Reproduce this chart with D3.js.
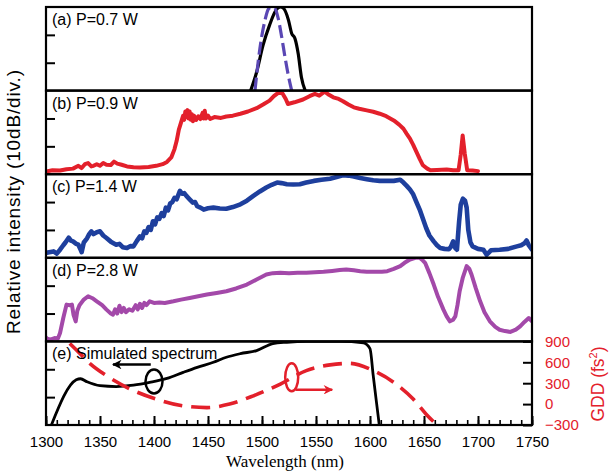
<!DOCTYPE html>
<html>
<head>
<meta charset="utf-8">
<script src="https://cdn.jsdelivr.net/npm/d3@7"></script>
<style>
  body { margin: 0; background: #fff; }
  svg text { font-family: "Liberation Sans", Arial, sans-serif; }
</style>
</head>
<body>
<svg id="chart" width="609" height="473"></svg>
<script>
// ---- data (wavelength nm, relative intensity in 10 dB divisions) ----
const panelLabels = ['(a) P=0.7 W', '(b) P=0.9 W', '(c) P=1.4 W', '(d) P=2.8 W', '(e) Simulated spectrum'];
const xTicks = [1300, 1350, 1400, 1450, 1500, 1550, 1600, 1650, 1700, 1750];
const gddTicks = [-300, 0, 300, 600, 900];

const specA = [[1489.5,0],[1495,0.66],[1501,1.63],[1507,2.35],[1513.5,2.92],[1517,3.0],[1520,2.95],
  [1524.5,2.53],[1527.5,2.05],[1530.5,1.87],[1533.5,1.33],[1536.5,0.48],[1540,0]];
const pumpA = [[1493.5,0],[1496.6,1.08],[1499.7,1.93],[1502.8,2.53],[1505.8,2.92],[1509,3.0],[1512,2.95],
  [1515,2.59],[1518.2,1.93],[1521.3,1.2],[1524.4,0.54],[1527.5,0]];

const specB = [[1300,0.1],[1306,0.14],[1313,0.13],[1319,0.18],[1325,0.2],[1330,0.3],[1333,0.22],[1336,0.36],
  [1339,0.4],[1342,0.28],[1344,0.3],[1347,0.36],[1350,0.3],[1353,0.4],[1356,0.34],[1360,0.33],[1363,0.45],
  [1366,0.38],[1370,0.34],[1375,0.28],[1381,0.25],[1387,0.24],[1395,0.26],[1402,0.3],[1408,0.36],[1412,0.44],
  [1416,0.6],[1419,0.9],[1421,1.2],[1423,1.6],[1425,1.85],[1427,2.1],[1428,1.95],[1429,2.25],[1430,2.05],
  [1431,2.3],[1432,2.0],[1433,2.25],[1434,1.95],[1435,2.15],[1436,1.9],[1437,2.1],[1439,1.95],[1441,2.08],
  [1443,1.98],[1445,2.2],[1446,2.0],[1447,2.28],[1448,2.0],[1450,2.1],[1452,1.98],[1456,2.05],[1462,2.02],
  [1467,2.07],[1473,2.1],[1480,2.17],[1487,2.25],[1495,2.37],[1501,2.5],[1507,2.64],[1511,2.8],[1515,2.92],
  [1519,2.9],[1522,2.7],[1524,2.52],[1530,2.58],[1538,2.68],[1544,2.8],[1549,2.88],[1553,2.82],[1558,2.96],
  [1562,2.85],[1566,2.76],[1571,2.7],[1575,2.62],[1580,2.5],[1585,2.4],[1590,2.35],[1597,2.29],[1603,2.24],
  [1609,2.17],[1615,2.08],[1622,1.93],[1627,1.78],[1631,1.63],[1634,1.45],[1637,1.28],[1640,1.05],[1643,0.8],
  [1646,0.55],[1649,0.32],[1653,0.2],[1656,0.14],[1662,0.15],[1671,0.17],[1677,0.14],[1682,0.14],[1684,0.7],
  [1685.8,1.39],[1687.7,0.75],[1690,0.14],[1695,0.13],[1700,0.11]];

const specC = [[1299,0.17],[1303,0.2],[1307,0.23],[1310,0.15],[1313,0.29],[1316,0.45],[1318,0.55],[1321,0.72],
  [1323,0.62],[1325,0.59],[1328,0.5],[1330,0.47],[1332,0.3],[1333,0.2],[1335,0.55],[1338,0.7],[1340,0.85],
  [1342,0.95],[1344,0.85],[1347,0.92],[1350,0.95],[1353,0.8],[1356,0.71],[1360,0.58],[1365,0.47],[1368,0.5],
  [1371,0.38],[1375,0.35],[1378,0.42],[1381,0.41],[1384,0.6],[1387,0.77],[1389,0.7],[1391,0.95],[1393,0.9],
  [1395,1.1],[1397,1.0],[1399,1.31],[1401,1.2],[1403,1.45],[1405,1.4],[1407,1.6],[1409,1.5],[1411,1.8],
  [1413,1.7],[1415,1.95],[1417,2.0],[1419,2.15],[1421,2.1],[1424,2.4],[1426,2.3],[1428,2.32],[1430,2.22],
  [1433,2.1],[1436,1.98],[1438,2.0],[1440,1.85],[1443,1.8],[1446,1.73],[1450,1.78],[1455,1.8],[1461,1.77],
  [1467,1.76],[1473,1.82],[1480,1.92],[1486,2.05],[1492,2.22],[1498,2.38],[1504,2.52],[1509,2.62],[1514,2.7],
  [1518,2.68],[1523,2.64],[1529,2.63],[1535,2.64],[1541,2.7],[1548,2.76],[1555,2.8],[1563,2.84],[1569,2.9],
  [1575,2.96],[1580,2.95],[1585,2.92],[1591,2.86],[1597,2.82],[1603,2.78],[1609,2.76],[1616,2.76],[1622,2.76],
  [1628,2.8],[1631,2.7],[1634,2.58],[1637,2.45],[1640,2.28],[1643,2.0],[1646,1.73],[1649,1.4],[1652,1.07],
  [1655,0.8],[1659,0.59],[1662,0.45],[1665,0.35],[1669,0.32],[1673,0.31],[1675,0.4],[1677,0.59],[1679,0.35],
  [1680.5,0.29],[1682.5,1.3],[1684,1.9],[1686,2.12],[1688,2.05],[1689.5,1.8],[1691,1.0],[1693,0.55],
  [1695,0.41],[1700,0.32],[1705,0.29],[1708,0.11],[1712,0.27],[1720,0.29],[1728,0.32],[1736,0.41],
  [1740,0.45],[1743,0.52],[1745,0.62],[1747,0.45],[1750,0.29]];

const specD = [[1299,0.18],[1301,0.1],[1304,0.06],[1308,0.12],[1311,0.1],[1313,0.3],[1316,0.84],[1319,1.32],
  [1322,1.3],[1324,1.32],[1325.5,0.95],[1327.5,0.72],[1329,1.1],[1331,1.3],[1335,1.5],[1339,1.62],[1343,1.55],
  [1347,1.44],[1352,1.3],[1356,1.14],[1360,1.0],[1362,0.96],[1364,1.15],[1366,1.0],[1368,1.28],[1370,1.05],
  [1372,1.2],[1374,1.05],[1377,1.15],[1380,1.1],[1383,1.3],[1385,1.15],[1387,1.35],[1389,1.2],[1391,1.38],
  [1393,1.3],[1396,1.44],[1400,1.38],[1405,1.4],[1410,1.38],[1418,1.44],[1425,1.5],[1433,1.56],[1441,1.62],
  [1449,1.68],[1458,1.74],[1467,1.8],[1476,1.9],[1486,2.04],[1495,2.22],[1500,2.32],[1504,2.4],[1510,2.45],
  [1517,2.46],[1525,2.45],[1533,2.46],[1541,2.46],[1549,2.48],[1557,2.5],[1565,2.53],[1572,2.56],[1578,2.58],
  [1585,2.55],[1591,2.52],[1597,2.5],[1605,2.5],[1611,2.5],[1616,2.52],[1622,2.6],[1628,2.7],[1632,2.82],
  [1637,2.94],[1642,3.0],[1646,3.0],[1649,2.9],[1651,2.82],[1655,2.45],[1659,2.04],[1663,1.6],[1668,1.14],
  [1671,0.9],[1674,0.72],[1677,0.78],[1679,0.9],[1681,1.3],[1683,1.8],[1686,2.3],[1689.5,2.7],[1692,2.6],
  [1694,2.4],[1698,1.9],[1702,1.44],[1706,1.05],[1711,0.72],[1716,0.52],[1720,0.42],[1725,0.37],[1730,0.34],
  [1735,0.42],[1739,0.54],[1743,0.7],[1747,0.84],[1750,0.72]];

const simE = [[1305,0],[1328,1.62],[1332,1.66],[1338,1.55],[1350,1.41],[1365,1.38],[1381,1.43],[1396,1.53],
  [1412,1.67],[1427,1.89],[1440,2.07],[1455,2.25],[1467,2.43],[1480,2.56],[1495,2.67],[1510,2.92],[1523,2.97],
  [1541,3.0],[1572,3.0],[1594,2.95],[1600,2.74],[1603,1.77],[1606,0.81],[1608.6,0]];

// group delay dispersion (fs^2)
const gddE = [[1322,870],[1327,794],[1341,578],[1356,408],[1378,216],[1402,72],[1427,-25],[1449,-50],
  [1470,0],[1492,119],[1517,288],[1541,481],[1563,563],[1581,585],[1603,481],[1622,312],[1640,72],
  [1652,-145],[1664,-330]];

// ---- layout ----
const red = '#e3202b', blue = '#1e3f9d', magenta = '#a349a9', violet = '#5a47b4';
const plotLeft = 46, plotRight = 532, plotTop = 7, panelH = 83.6;
const svg = d3.select('#chart');
const x = d3.scaleLinear().domain([1300, 1750]).range([plotLeft, plotRight]);

const panels = d3.range(5).map(i => {
  const t = plotTop + i * panelH;
  return { i, top: t, bottom: t + panelH,
    y: d3.scaleLinear().domain([0, 3]).range([t + panelH, t]) };
});

const defs = svg.append('defs');
panels.forEach(p => {
  defs.append('clipPath').attr('id', 'clip' + p.i)
    .append('rect').attr('x', plotLeft).attr('y', p.top).attr('width', plotRight - plotLeft).attr('height', panelH);
});
function arrowMarker(id, color) {
  defs.append('marker').attr('id', id).attr('viewBox', '0 0 10 10')
    .attr('refX', 9).attr('refY', 5).attr('markerWidth', 4.4).attr('markerHeight', 3.8)
    .attr('markerUnits', 'strokeWidth').attr('orient', 'auto')
    .append('path').attr('d', 'M0,0 L10,5 L0,10 L3,5 Z').attr('fill', color);
}
arrowMarker('arrBlack', '#000');
arrowMarker('arrRed', red);

const line = yS => d3.line().x(d => x(d[0])).y(d => yS(d[1]));

function drawCurve(p, data, color, width, opts = {}) {
  svg.append('path')
    .attr('clip-path', `url(#clip${p.i})`)
    .attr('d', line(p.y).curve(opts.curve || d3.curveLinear)(data))
    .attr('fill', 'none')
    .attr('stroke', color)
    .attr('stroke-width', width)
    .attr('stroke-linejoin', 'round')
    .attr('stroke-linecap', opts.dash ? 'butt' : 'round')
    .attr('stroke-dasharray', opts.dash || null);
}

// curves
drawCurve(panels[0], specA, '#000', 3.2, { curve: d3.curveMonotoneX });
drawCurve(panels[0], pumpA, violet, 3.2, { curve: d3.curveMonotoneX, dash: '13,5' });
drawCurve(panels[1], specB, red, 4);
drawCurve(panels[2], specC, blue, 4.6);
drawCurve(panels[3], specD, magenta, 4);
drawCurve(panels[4], simE, '#000', 2.8, { curve: d3.curveMonotoneX });

const gdd = d3.scaleLinear().domain([-300, 900]).range([panels[4].bottom, panels[4].top]);
svg.append('path')
  .attr('clip-path', 'url(#clip4)')
  .attr('d', line(gdd).curve(d3.curveMonotoneX)(gddE))
  .attr('fill', 'none').attr('stroke', red).attr('stroke-width', 3.6)
  .attr('stroke-dasharray', '19,9');

// frames and left ticks
panels.forEach(p => {
  svg.append('g').attr('transform', `translate(${plotLeft},0)`)
    .call(d3.axisLeft(p.y).tickValues([1, 2]).tickSize(-9).tickFormat(''))
    .call(g => g.select('.domain').remove())
    .call(g => g.selectAll('line').attr('stroke-width', 2));
  svg.append('rect').attr('x', plotLeft).attr('y', p.top).attr('width', plotRight - plotLeft).attr('height', panelH)
    .attr('fill', 'none').attr('stroke', '#000').attr('stroke-width', 2.2);
  svg.append('text').attr('x', 52).attr('y', p.top + 18)
    .attr('font-size', 16).attr('fill', '#000').text(panelLabels[p.i]);
});

// bottom axis
const plotBottom = panels[4].bottom;
svg.append('g').attr('transform', `translate(0,${plotBottom})`)
  .call(d3.axisBottom(x).tickValues(d3.range(1300, 1751, 10)).tickSize(-5).tickFormat(''))
  .call(g => g.select('.domain').remove())
  .call(g => g.selectAll('line').attr('stroke-width', 1.6));
svg.append('g').attr('transform', `translate(0,${plotBottom})`)
  .call(d3.axisBottom(x).tickValues(xTicks).tickSize(-9).tickPadding(11).tickFormat(d3.format('d')))
  .call(g => g.select('.domain').remove())
  .call(g => g.selectAll('line').attr('stroke-width', 2))
  .call(g => g.selectAll('text').attr('font-size', 15).attr('fill', '#000')
    .attr('font-family', '"Liberation Sans", Arial, sans-serif'));

// right GDD axis
svg.append('g').attr('transform', `translate(${plotRight},0)`)
  .call(d3.axisRight(gdd).tickValues(gddTicks).tickSize(-9).tickPadding(13))
  .call(g => g.select('.domain').remove())
  .call(g => g.selectAll('line').attr('stroke', '#000').attr('stroke-width', 2))
  .call(g => g.selectAll('text').attr('font-size', 15).attr('fill', red)
    .attr('font-family', '"Liberation Sans", Arial, sans-serif'));

// axis titles
svg.append('text')
  .attr('transform', 'translate(20,202) rotate(-90)')
  .attr('text-anchor', 'middle').attr('font-size', 19).attr('fill', '#000')
  .attr('textLength', 264).attr('lengthAdjust', 'spacing')
  .text('Relative intensity (10dB/div.)');
svg.append('text')
  .attr('x', (plotLeft + plotRight) / 2 - 4).attr('y', 467)
  .attr('text-anchor', 'middle').attr('font-size', 17)
  .style('font-family', '"Liberation Serif", "Times New Roman", serif')
  .text('Wavelength (nm)');
const gddTitle = svg.append('text')
  .attr('transform', 'translate(604,384) rotate(-90)')
  .attr('text-anchor', 'middle').attr('font-size', 17.5).attr('fill', red);
gddTitle.append('tspan').text('GDD (fs');
gddTitle.append('tspan').attr('dy', -7).attr('font-size', 11).text('2');
gddTitle.append('tspan').attr('dy', 7).text(')');

// curve-to-axis annotations in panel e
const yE = panels[4].y;
svg.append('ellipse').attr('cx', x(1400)).attr('cy', yE(1.56)).attr('rx', 8.5).attr('ry', 12)
  .attr('fill', 'none').attr('stroke', '#000').attr('stroke-width', 2.5);
svg.append('line').attr('x1', x(1397)).attr('x2', x(1362)).attr('y1', yE(2.17)).attr('y2', yE(2.17))
  .attr('stroke', '#000').attr('stroke-width', 2.5).attr('marker-end', 'url(#arrBlack)');
svg.append('ellipse').attr('cx', x(1527.5)).attr('cy', gdd(384)).attr('rx', 6.5).attr('ry', 14)
  .attr('fill', 'none').attr('stroke', red).attr('stroke-width', 2.5);
svg.append('line').attr('x1', x(1531)).attr('x2', x(1565)).attr('y1', gdd(206)).attr('y2', gdd(206))
  .attr('stroke', red).attr('stroke-width', 2.5).attr('marker-end', 'url(#arrRed)');
</script>
</body>
</html>
